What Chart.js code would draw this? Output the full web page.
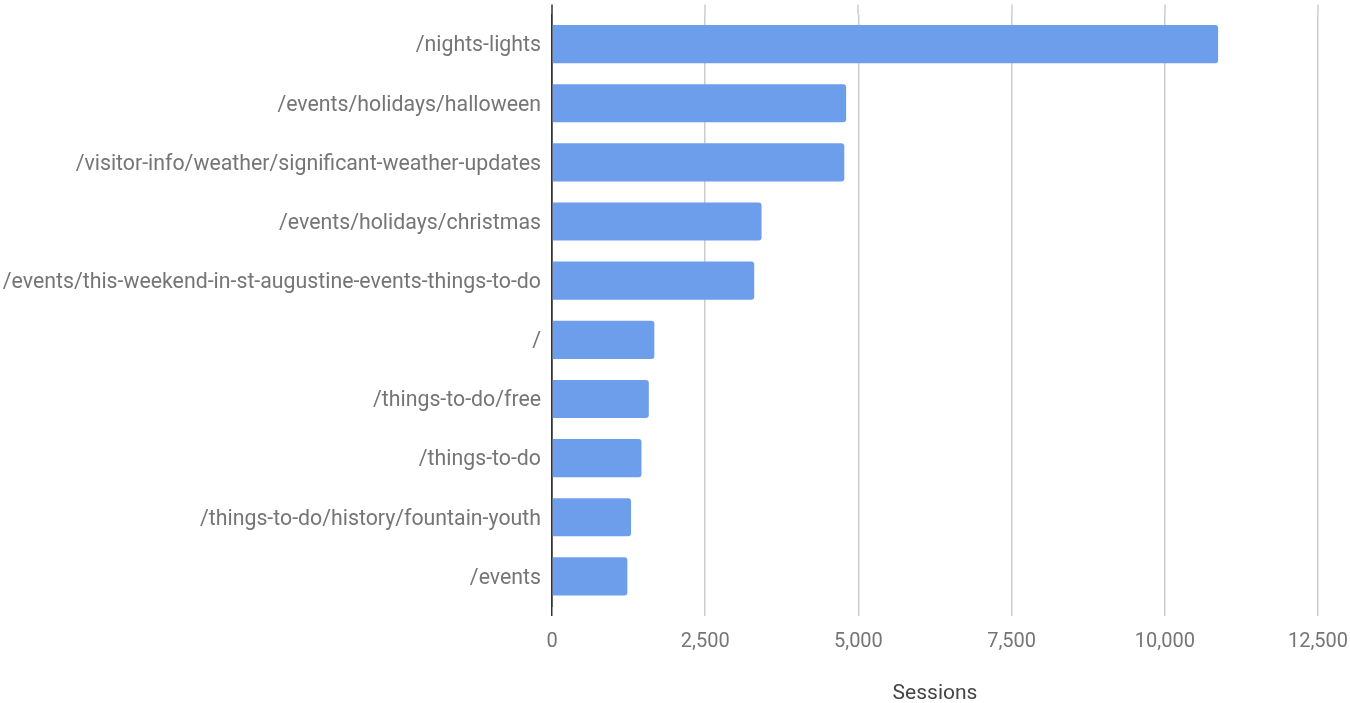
<!DOCTYPE html>
<html>
<head>
    <title>Top Pages by Sessions</title>
    <script src="https://cdn.jsdelivr.net/npm/chart.js"></script>
    <style>
        body { margin: 0; background: #fff; }
    </style>
</head>
<body>

<canvas id="sessionsChart" width="1350" height="703"></canvas>

<script>
    // page paths and their session counts
    const pages = [
        '/nights-lights',
        '/events/holidays/halloween',
        '/visitor-info/weather/significant-weather-updates',
        '/events/holidays/christmas',
        '/events/this-weekend-in-st-augustine-events-things-to-do',
        '/',
        '/things-to-do/free',
        '/things-to-do',
        '/things-to-do/history/fountain-youth',
        '/events'
    ];
    const sessions = [10870, 4800, 4770, 3420, 3300, 1670, 1580, 1460, 1290, 1230];

    // gridlines run a little past the top of the plot, like the original report
    const gridTopExtension = {
        id: 'gridTopExtension',
        beforeDatasetsDraw(chart) {
            const {ctx, chartArea, scales} = chart;
            const xScale = scales.x;
            ctx.save();
            ctx.lineWidth = 1.5;
            xScale.ticks.forEach(tick => {
                const x = Math.round(xScale.getPixelForValue(tick.value));
                ctx.strokeStyle = tick.value === 0 ? '#333333' : '#cccccc';
                ctx.beginPath();
                ctx.moveTo(x, chartArea.top - 10);
                ctx.lineTo(x, chartArea.top);
                ctx.stroke();
            });
            ctx.restore();
        }
    };

    const ctx = document.getElementById('sessionsChart').getContext('2d');
    const barChart = new Chart(ctx, {
        type: 'bar',
        data: {
            labels: pages,
            datasets: [{
                label: 'Sessions',
                data: sessions,
                backgroundColor: '#6d9eeb',
                borderRadius: {topRight: 3, bottomRight: 3},
                borderSkipped: 'start',
                categoryPercentage: 1.0,
                barPercentage: 0.645
            }]
        },
        options: {
            indexAxis: 'y',
            responsive: false,
            animation: false,
            layout: {
                padding: {top: 14.5, right: 32, bottom: 0, left: 0}
            },
            plugins: {
                legend: { display: false },
                tooltip: { enabled: false }
            },
            scales: {
                x: {
                    min: 0,
                    max: 12500,
                    ticks: {
                        stepSize: 2500,
                        color: '#757575',
                        padding: 14,
                        font: { family: 'Roboto', size: 20 }
                    },
                    grid: {
                        color: ctx => ctx.tick && ctx.tick.value === 0 ? '#333333' : '#cccccc',
                        lineWidth: 1.5,
                        drawTicks: true,
                        tickLength: 10
                    },
                    border: { display: false },
                    title: {
                        display: true,
                        text: 'Sessions',
                        color: '#444444',
                        padding: {top: 0, bottom: -3},
                        font: { family: 'Roboto', size: 21 }
                    },
                    afterFit(scale) {
                        scale.height = 97;
                        scale.paddingLeft = 0;
                        scale.paddingRight = 0;
                    }
                },
                y: {
                    ticks: {
                        color: '#757575',
                        padding: 3,
                        labelOffset: 2,
                        font: { family: 'Roboto', size: 21.3 }
                    },
                    grid: { display: false },
                    border: { display: true, color: '#333333', width: 1.5 },
                    afterFit(scale) {
                        scale.width = 552;
                        scale.paddingTop = 0;
                        scale.paddingBottom = 0;
                    }
                }
            }
        },
        plugins: [gridTopExtension]
    });
</script>

</body>
</html>
